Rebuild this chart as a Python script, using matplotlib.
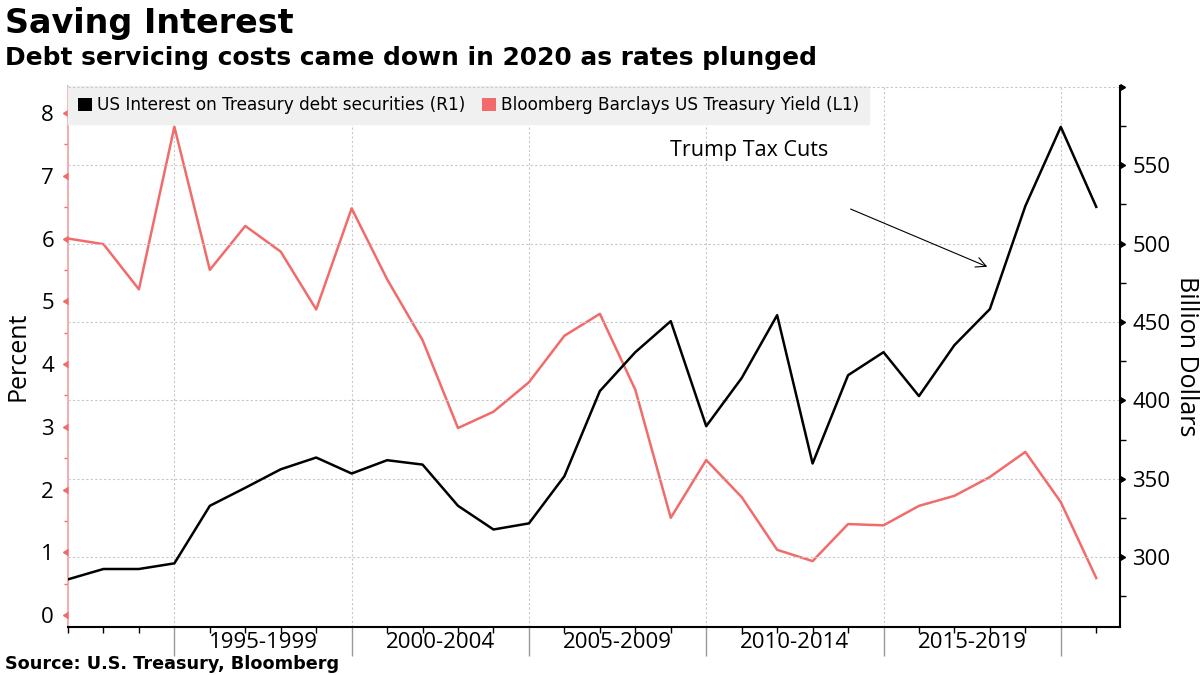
import numpy as np
import matplotlib
matplotlib.use("Agg")
import matplotlib.pyplot as plt
from matplotlib.patches import Patch
from matplotlib.markers import CARETLEFTBASE, CARETRIGHTBASE

# Data
years = np.arange(1991, 2021)
interest_bn = [285.8, 292.4, 292.4, 296.0, 332.7, 344.2, 356.0, 363.5, 353.3, 361.8,
               359.0, 332.7, 317.6, 321.5, 351.6, 405.9, 430.7, 450.5, 383.5, 414.2,
               454.3, 359.7, 416.0, 430.7, 402.7, 435.2, 458.2, 523.9, 574.4, 523.4]
yield_pct = [6.00, 5.91, 5.19, 7.78, 5.50, 6.20, 5.79, 4.87, 6.48, 5.35,
             4.38, 2.98, 3.24, 3.71, 4.45, 4.80, 3.59, 1.55, 2.47, 1.88,
             1.04, 0.86, 1.45, 1.43, 1.74, 1.90, 2.20, 2.60, 1.80, 0.59]
period_edges = [1994, 1999, 2004, 2009, 2014, 2019]
period_labels = ["1995-1999", "2000-2004", "2005-2009", "2010-2014", "2015-2019"]
left_ticks = list(range(0, 9))
right_ticks = [300, 350, 400, 450, 500, 550, 600]

RED = "#f26b6b"
TICK_FONT = "Open Sans"

fig = plt.figure(figsize=(12, 6.75), dpi=100)
ax = fig.add_axes([68 / 1200, 1 - 627 / 675, (1120 - 68) / 1200, (627 - 86) / 675])
ax2 = ax.twinx()

x = years
ax.plot(x, yield_pct, color=RED, lw=1.8, zorder=3)
ax2.plot(x, interest_bn, color="black", lw=1.8, zorder=3)

ax.set_xlim(years[0], years[0] + 29.67)
ax.set_ylim(-0.19, 8.43)
ax2.set_ylim(255.4, 600.5)

# spines
for a in (ax, ax2):
    a.spines["top"].set_visible(False)
ax.spines["right"].set_visible(False)
ax2.spines["left"].set_visible(False)
ax2.spines["bottom"].set_visible(False)
ax.spines["left"].set_color("#f4a0a0")
ax.spines["left"].set_linewidth(1.2)
ax2.spines["right"].set_color("black")
ax2.spines["right"].set_linewidth(1.5)
ax.spines["bottom"].set_linewidth(1.5)

# left axis ticks
ax.set_yticks(left_ticks)
ax.set_yticks(np.arange(0.5, 8.5, 1), minor=True)
ax.tick_params(axis="y", which="major", length=0, pad=10, labelsize=16)
ax.tick_params(axis="y", which="minor", length=3, color=RED, width=1)
ax.plot(np.zeros(len(left_ticks)), left_ticks, ls="", marker=CARETLEFTBASE,
        ms=4.5, color=RED, transform=ax.get_yaxis_transform(), clip_on=False, zorder=5)

# right axis ticks
ax2.set_yticks(right_ticks)
ax2.set_yticklabels([str(v) for v in right_ticks[:-1]] + [""])
ax2.set_yticks(np.arange(275, 600, 50), minor=True)
ax2.tick_params(axis="y", which="major", length=0, pad=9, labelsize=16)
ax2.tick_params(axis="y", which="minor", length=4, color="black", width=1)
ax2.plot(np.ones(len(right_ticks)), right_ticks, ls="", marker=CARETRIGHTBASE,
         ms=4.5, color="black", transform=ax2.get_yaxis_transform(), clip_on=False, zorder=5)

for lab in ax.get_yticklabels() + ax2.get_yticklabels():
    lab.set_family(TICK_FONT)

# grid
ax2.grid(axis="y", which="major", ls=(0, (2, 2)), color="#c8c8c8", lw=0.8)
ax.set_xticks(period_edges)
ax.set_xticklabels([""] * len(period_edges))
ax.set_xticks(years, minor=True)
ax.tick_params(axis="x", which="major", length=21, color="#999999", width=1)
ax.tick_params(axis="x", which="minor", length=4, color="black", width=1)
ax.grid(axis="x", which="major", ls=(0, (2, 2)), color="#c8c8c8", lw=0.8)
ax.set_axisbelow(True)

for i, lab in enumerate(period_labels):
    mid = (period_edges[i] + period_edges[i + 1]) / 2
    ax.text(mid, -0.01, lab, transform=ax.get_xaxis_transform(), ha="center", va="top",
            fontsize=16, family=TICK_FONT)

ax.set_ylabel("Percent", fontsize=18, family=TICK_FONT, labelpad=8)
ax2.set_ylabel("Billion Dollars", fontsize=18, family=TICK_FONT, rotation=-90,
               labelpad=20)

# annotation
ax2.annotate("", xy=(2017, 484.5), xytext=(2013, 522.7),
             arrowprops=dict(arrowstyle="->", color="black", lw=0.8,
                             mutation_scale=18))
ax2.text(2010.2, 559.6, "Trump Tax Cuts", ha="center", va="center",
         fontsize=15.5, family=TICK_FONT)

# legend
handles = [Patch(facecolor="black", label="US Interest on Treasury debt securities (R1)"),
           Patch(facecolor=RED, label="Bloomberg Barclays US Treasury Yield (L1)")]
leg = ax.legend(handles=handles, loc="upper left", bbox_to_anchor=(0, 1.0), ncol=2,
                frameon=True, fancybox=False, facecolor="#f0f0f0", edgecolor="#f0f0f0",
                framealpha=1, fontsize=12.2, handlelength=0.8, handleheight=0.8,
                handletextpad=0.3, columnspacing=1.0, borderpad=0.6, borderaxespad=0.0)
leg.set_zorder(10)

# titles
fig.text(5 / 1200, 1 - 7 / 675, "Saving Interest", ha="left", va="top",
         fontsize=24, fontweight="bold")
fig.text(5 / 1200, 1 - 46 / 675, "Debt servicing costs came down in 2020 as rates plunged",
         ha="left", va="top", fontsize=17.9, fontweight="bold")
fig.text(5 / 1200, 1 - 664 / 675, "Source: U.S. Treasury, Bloomberg", ha="left",
         va="center", fontsize=12.7, fontweight="bold")

fig.savefig("out.png", dpi=100)
